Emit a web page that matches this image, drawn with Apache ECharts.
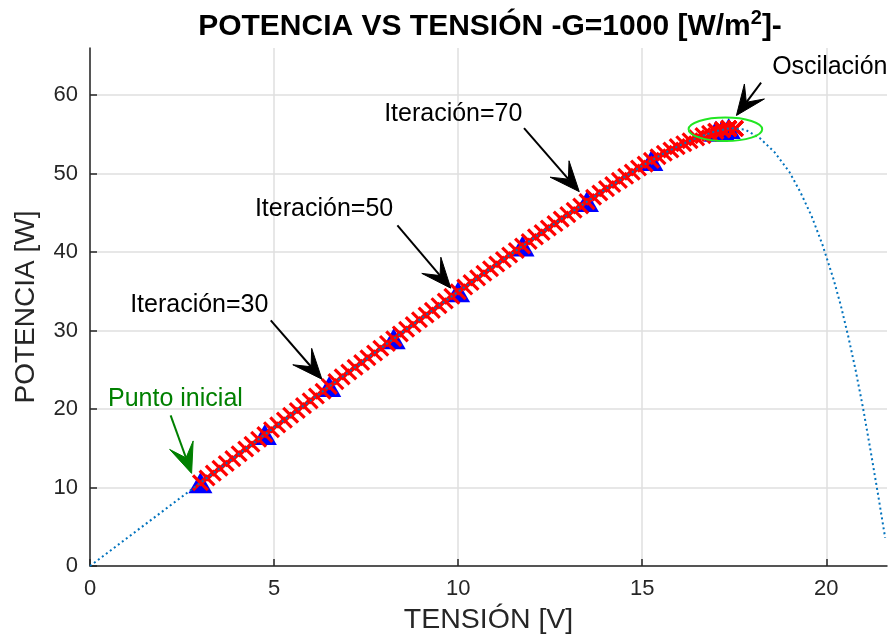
<!DOCTYPE html>
<html>
<head>
<meta charset="utf-8">
<script src="https://cdn.jsdelivr.net/npm/echarts@6/dist/echarts.min.js"></script>
<style>
html, body { margin: 0; padding: 0; background: #fff; }
#main { width: 895px; height: 639px; }
</style>
</head>
<body>
<div id="main"></div>
<script>
// curva P-V del panel (linea punteada)
var curvaV = [0, 1, 2, 3, 4, 5, 6, 7, 8, 9, 10, 11, 12, 13, 14, 15, 15.5, 16, 16.5, 17, 17.4, 17.8,
    18.2, 18.6, 19.0, 19.3, 19.6, 19.9, 20.2, 20.4, 20.6, 20.8, 21.0, 21.2, 21.4, 21.6];
var curvaP = [0, 3.54, 7.07, 10.6, 14.12, 17.63, 21.13, 24.62, 28.1, 31.55, 34.95, 38.3, 41.6, 44.85, 48.0, 51.0, 52.35, 53.55, 54.6, 55.4, 55.8, 55.6,
    54.5, 52.7, 50.2, 47.6, 44.6, 40.9, 36.5, 33.1, 29.2, 24.9, 20.1, 14.8, 9.3, 3.6];

// recorrido del MPPT, una marca por iteracion
var mpptV = [3.00, 3.18, 3.35, 3.53, 3.70, 3.88, 4.05, 4.23, 4.40, 4.58,
    4.75, 4.93, 5.10, 5.28, 5.45, 5.63, 5.80, 5.98, 6.15, 6.33,
    6.50, 6.68, 6.85, 7.03, 7.20, 7.38, 7.55, 7.73, 7.90, 8.08,
    8.25, 8.43, 8.60, 8.78, 8.95, 9.13, 9.30, 9.48, 9.65, 9.83,
    10.00, 10.18, 10.35, 10.53, 10.70, 10.88, 11.05, 11.23, 11.40, 11.58,
    11.75, 11.93, 12.10, 12.28, 12.45, 12.63, 12.80, 12.98, 13.15, 13.33,
    13.50, 13.68, 13.85, 14.03, 14.20, 14.38, 14.55, 14.73, 14.90, 15.08,
    15.25, 15.43, 15.60, 15.78, 15.95, 16.13, 16.30, 16.48, 16.65, 16.83,
    17.00, 17.18, 17.35, 17.53, 17.35, 17.18, 17.35, 17.53, 17.35, 17.18, 17.00, 17.18, 17.35, 17.53];
var mpptP = [10.60, 11.22, 11.83, 12.45, 13.06, 13.68, 14.30, 14.91, 15.52, 16.14,
    16.75, 17.37, 17.98, 18.59, 19.21, 19.82, 20.43, 21.04, 21.65, 22.26,
    22.88, 23.49, 24.10, 24.71, 25.32, 25.93, 26.53, 27.14, 27.75, 28.36,
    28.96, 29.57, 30.17, 30.77, 31.38, 31.98, 32.57, 33.17, 33.76, 34.36,
    34.95, 35.54, 36.12, 36.71, 37.30, 37.88, 38.47, 39.04, 39.62, 40.20,
    40.78, 41.35, 41.93, 42.49, 43.06, 43.63, 44.20, 44.77, 45.32, 45.87,
    46.43, 46.98, 47.53, 48.08, 48.60, 49.13, 49.65, 50.18, 50.70, 51.20,
    51.68, 52.15, 52.59, 53.01, 53.43, 53.81, 54.18, 54.55, 54.84, 55.12,
    55.40, 55.58, 55.75, 55.74, 55.75, 55.58, 55.75, 55.74, 55.75, 55.58, 55.40, 55.58, 55.75, 55.74];

// puntos marcados cada 10 iteraciones
var triV = [3.00, 4.75, 6.50, 8.25, 10.00, 11.75, 13.50, 15.25, 17.00, 17.35, 17.18];
var triP = [10.60, 16.75, 22.88, 28.96, 34.95, 40.78, 46.43, 51.68, 55.40, 55.75, 55.58];

var ticksX = [0, 5, 10, 15, 20];
var ticksY = [0, 10, 20, 30, 40, 50, 60];

// anotaciones (coordenadas en unidades del grafico)
var notaTexto = ['Punto inicial', 'Iteración=30', 'Iteración=50', 'Iteración=70', 'Oscilación'];
var notaPos = [[0.49, 21.3], [1.09, 33.2], [4.48, 45.5], [7.99, 57.6], [18.53, 63.6]];
var notaColor = ['#008000', '#000', '#000', '#000', '#000'];
var flechaDesde = [[2.19, 19.2], [4.91, 31.3], [8.35, 43.4], [11.79, 55.8], [18.23, 61.6]];
var flechaHasta = [[2.76, 11.8], [6.30, 23.8], [9.80, 35.4], [13.29, 47.7], [17.56, 57.4]];
var elipseCentro = [17.26, 55.64];
var elipseRadio = [1.0, 1.5];

var FONT = '"Liberation Sans", Arial, Helvetica, sans-serif';
var GRIS = '#262626';

function pares(xs, ys) {
    var out = [];
    for (var i = 0; i < xs.length; i++) out.push([xs[i], ys[i]]);
    return out;
}

var chart = echarts.init(document.getElementById('main'));

var option = {
    animation: false,
    backgroundColor: '#fff',
    title: {
        text: '{a|POTENCIA VS TENSIÓN -G=1000 [W/m}{s|2}{a|]-}',
        left: 485,
        top: 3,
        textAlign: 'center',
        textStyle: {
            rich: {
                a: { fontFamily: FONT, fontSize: 30, fontWeight: 'bold', color: '#000', lineHeight: 38 },
                s: { fontFamily: FONT, fontSize: 20, fontWeight: 'bold', color: '#000', lineHeight: 38, verticalAlign: 'top' }
            }
        }
    },
    grid: { left: 90, right: 8, top: 48, bottom: 73, containLabel: false, outerBoundsMode: 'none' },
    xAxis: {
        type: 'value',
        min: 0,
        max: 21.65,
        interval: 5,
        name: 'TENSIÓN [V]',
        nameLocation: 'middle',
        nameGap: 40,
        nameTextStyle: { fontFamily: FONT, fontSize: 28.5, color: GRIS },
        axisLine: { show: true, onZero: false, lineStyle: { color: GRIS, width: 1.5 } },
        axisTick: { show: true, inside: true, length: 7, customValues: ticksX, lineStyle: { color: GRIS, width: 1.5 } },
        axisLabel: {
            fontFamily: FONT, fontSize: 22, color: GRIS, margin: 12, customValues: ticksX
        },
        splitLine: { show: true, lineStyle: { color: '#dfdfdf', width: 1.5 } }
    },
    yAxis: {
        type: 'value',
        min: 0,
        max: 66,
        interval: 10,
        name: 'POTENCIA [W]',
        nameLocation: 'middle',
        nameGap: 50,
        nameTextStyle: { fontFamily: FONT, fontSize: 28, color: GRIS },
        axisLine: { show: true, onZero: false, lineStyle: { color: GRIS, width: 1.5 } },
        axisTick: { show: true, inside: true, length: 7, customValues: ticksY, lineStyle: { color: GRIS, width: 1.5 } },
        axisLabel: {
            fontFamily: FONT, fontSize: 22, color: GRIS, margin: 12, customValues: ticksY
        },
        splitLine: { show: true, lineStyle: { color: '#dfdfdf', width: 1.5 } }
    },
    series: [
        {
            name: 'Triangulos',
            type: 'scatter',
            data: pares(triV, triP),
            symbol: 'triangle',
            symbolSize: [24, 21],
            itemStyle: { color: '#0000ff', opacity: 1 },
            z: 2
        },
        {
            name: 'MPPT',
            type: 'scatter',
            data: pares(mpptV, mpptP),
            symbol: 'path://M4.25,0H5.75V4.25H10V5.75H5.75V10H4.25V5.75H0V4.25H4.25Z',
            symbolSize: 21,
            symbolRotate: 45,
            itemStyle: { color: '#ff0000', opacity: 1 },
            z: 3
        },
        {
            name: 'Curva P-V',
            type: 'line',
            data: pares(curvaV, curvaP),
            showSymbol: false,
            symbol: 'none',
            smooth: false,
            lineStyle: { color: '#0072bd', width: 2, type: [2, 3] },
            z: 4
        }
    ]
};

chart.setOption(option);

// flechas, textos y elipse de las anotaciones
function dibujarNotas() {
    var g = [];
    for (var i = 0; i < notaTexto.length; i++) {
        var p = chart.convertToPixel({ gridIndex: 0 }, notaPos[i]);
        g.push({
            type: 'text', x: p[0], y: p[1], z: 10,
            style: { text: notaTexto[i], fill: notaColor[i], font: '25px ' + FONT, textAlign: 'left', textVerticalAlign: 'middle', verticalAlign: 'middle' }
        });
        var s = chart.convertToPixel({ gridIndex: 0 }, flechaDesde[i]);
        var t = chart.convertToPixel({ gridIndex: 0 }, flechaHasta[i]);
        var dx = s[0] - t[0], dy = s[1] - t[1];
        var len = Math.sqrt(dx * dx + dy * dy);
        dx /= len; dy /= len;
        var nx = -dy, ny = dx;
        var L = 30, W = 12.5, M = 0.55;
        g.push({
            type: 'line', z: 10,
            shape: { x1: s[0], y1: s[1], x2: t[0] + dx * L * M, y2: t[1] + dy * L * M },
            style: { stroke: notaColor[i], lineWidth: 2 }
        });
        g.push({
            type: 'polygon', z: 10,
            shape: { points: [
                [t[0], t[1]],
                [t[0] + dx * L + nx * W, t[1] + dy * L + ny * W],
                [t[0] + dx * L * M, t[1] + dy * L * M],
                [t[0] + dx * L - nx * W, t[1] + dy * L - ny * W]
            ] },
            style: { fill: notaColor[i], stroke: notaColor[i], lineWidth: 1 }
        });
    }
    var c = chart.convertToPixel({ gridIndex: 0 }, elipseCentro);
    var e = chart.convertToPixel({ gridIndex: 0 }, [elipseCentro[0] + elipseRadio[0], elipseCentro[1] + elipseRadio[1]]);
    g.push({
        type: 'ellipse', z: 9,
        shape: { cx: c[0], cy: c[1], rx: Math.abs(e[0] - c[0]), ry: Math.abs(e[1] - c[1]) },
        style: { fill: 'none', stroke: '#22e622', lineWidth: 2 }
    });
    chart.setOption({ graphic: g });
}
dibujarNotas();
</script>
</body>
</html>
